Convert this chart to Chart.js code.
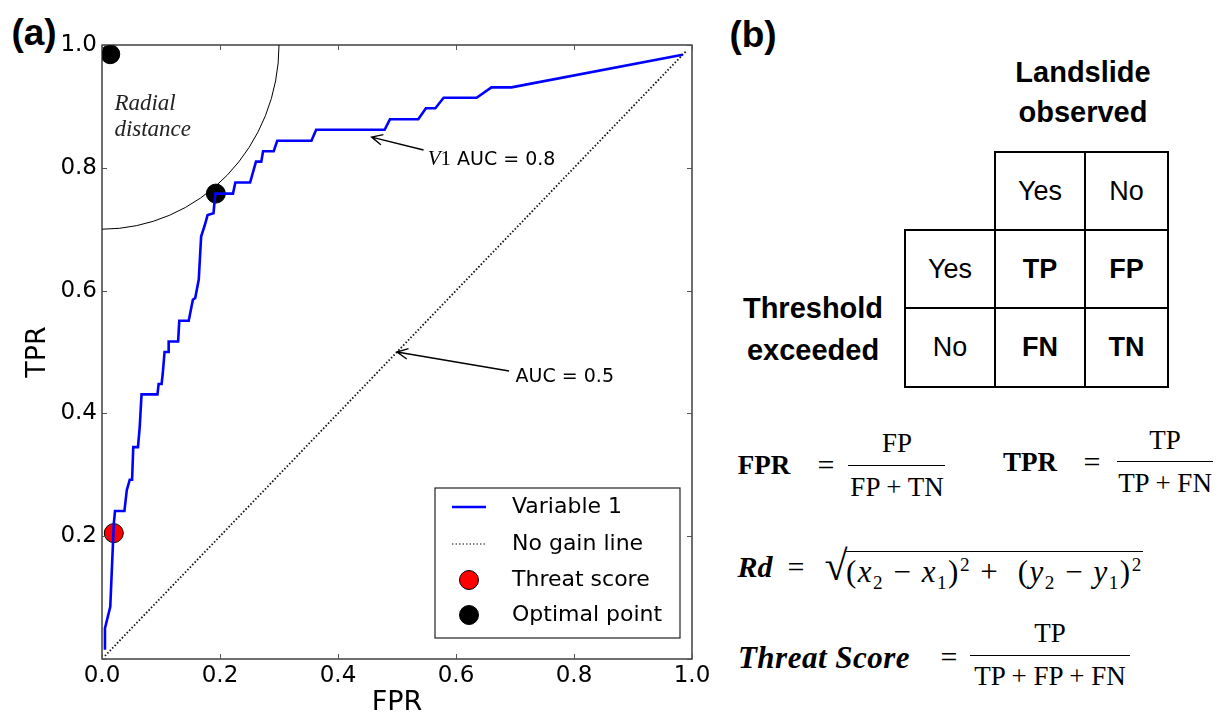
<!DOCTYPE html>
<html>
<head>
<meta charset="utf-8">
<script src="https://cdn.jsdelivr.net/npm/chart.js@4.4.0/dist/chart.umd.min.js"></script>
<style>
  html, body { margin: 0; padding: 0; background: #fff; }
  body { width: 1223px; height: 720px; position: relative; overflow: hidden; font-family: "Liberation Sans", Arial, sans-serif; color: #000; }
  #wrap { position: absolute; left: 0; top: 0; width: 720px; height: 720px; }
  .c { position: absolute; transform: translate(-50%, -50%); white-space: nowrap; line-height: 1; }
  .l { position: absolute; transform: translate(0, -50%); white-space: nowrap; line-height: 1; }
  .panel { font-weight: bold; font-size: 37px; }
  .head { font-weight: bold; font-size: 29px; }
  .cell { position: absolute; box-sizing: border-box; border: 2px solid #000; display: flex; align-items: center; justify-content: center; font-size: 27px; }
  .cell b { font-weight: bold; }
  .m { font-family: "Liberation Serif", "DejaVu Serif", serif; font-size: 27px; }
  .bar { position: absolute; height: 0; border-top: 1.6px solid #000; }
  sub, sup { font-size: 0.62em; line-height: 0; }
</style>
</head>
<body>
<div class="c panel" style="left:34px;top:32px">(a)</div>
<div id="wrap"><canvas id="roc" width="720" height="720"></canvas></div>

<!-- panel (b): contingency table and formulas -->
<div class="c panel" style="left:753px;top:34px">(b)</div>
<div class="c head" style="left:1083px;top:72px">Landslide</div>
<div class="c head" style="left:1083px;top:112px">observed</div>
<div class="c head" style="left:813px;top:308px">Threshold</div>
<div class="c head" style="left:813px;top:350px">exceeded</div>

<div class="cell" style="left:994px;top:151px;width:92px;height:80px">Yes</div>
<div class="cell" style="left:1084px;top:151px;width:85px;height:80px">No</div>
<div class="cell" style="left:904px;top:229px;width:92px;height:80px">Yes</div>
<div class="cell" style="left:994px;top:229px;width:92px;height:80px"><b>TP</b></div>
<div class="cell" style="left:1084px;top:229px;width:85px;height:80px"><b>FP</b></div>
<div class="cell" style="left:904px;top:307px;width:92px;height:81px">No</div>
<div class="cell" style="left:994px;top:307px;width:92px;height:81px"><b>FN</b></div>
<div class="cell" style="left:1084px;top:307px;width:85px;height:81px"><b>TN</b></div>

<div class="c m" style="left:764px;top:465px;font-weight:bold">FPR</div>
<div class="c m" style="left:826px;top:465px;font-size:30px">=</div>
<div class="c m" style="left:897px;top:443px">FP</div>
<div class="bar" style="left:848px;top:465px;width:97px"></div>
<div class="c m" style="left:897px;top:487px">FP + TN</div>

<div class="c m" style="left:1030px;top:462px;font-weight:bold">TPR</div>
<div class="c m" style="left:1092px;top:462px;font-size:30px">=</div>
<div class="c m" style="left:1165px;top:440px">TP</div>
<div class="bar" style="left:1117px;top:461px;width:96px"></div>
<div class="c m" style="left:1165px;top:483px">TP + FN</div>

<div class="c m" style="left:755px;top:567px;font-weight:bold;font-style:italic;font-size:30px">Rd</div>
<div class="c m" style="left:796px;top:567px;font-size:30px">=</div>
<div class="c m" style="left:836px;top:566px;font-size:42px">√</div>
<div class="l m" style="left:846px;top:569px;font-size:31px;letter-spacing:1.5px;border-top:1.6px solid #000;padding-top:4px">(<i>x</i><sub>2</sub> − <i>x</i><sub>1</sub>)<sup>2</sup> + &nbsp;(<i>y</i><sub>2</sub> − <i>y</i><sub>1</sub>)<sup>2</sup></div>

<div class="c m" style="left:824px;top:657px;font-weight:bold;font-style:italic;font-size:31px;letter-spacing:0.5px">Threat Score</div>
<div class="c m" style="left:949px;top:657px;font-size:30px">=</div>
<div class="c m" style="left:1050px;top:633px">TP</div>
<div class="bar" style="left:970px;top:655px;width:160px"></div>
<div class="c m" style="left:1050px;top:676px">TP + FP + FN</div>

<script>
// ROC curve of Variable 1
const fpr = [0.005, 0.005, 0.014, 0.020, 0.022, 0.038, 0.042, 0.047, 0.051, 0.053, 0.061, 0.064, 0.067,
  0.094, 0.096, 0.101, 0.103, 0.106, 0.112, 0.113, 0.129, 0.131, 0.147, 0.154, 0.158, 0.164, 0.168,
  0.174, 0.179, 0.189, 0.192, 0.222, 0.226, 0.251, 0.261, 0.270, 0.273, 0.291, 0.297, 0.355, 0.363,
  0.479, 0.488, 0.536, 0.549, 0.565, 0.579, 0.635, 0.660, 0.694, 0.984];
const tpr = [0.015, 0.050, 0.085, 0.220, 0.241, 0.241, 0.275, 0.292, 0.292, 0.345, 0.345, 0.379, 0.431,
  0.431, 0.448, 0.448, 0.465, 0.500, 0.500, 0.517, 0.517, 0.551, 0.551, 0.585, 0.588, 0.618, 0.688,
  0.706, 0.723, 0.726, 0.758, 0.758, 0.776, 0.776, 0.810, 0.810, 0.827, 0.827, 0.844, 0.844, 0.862,
  0.862, 0.879, 0.879, 0.897, 0.897, 0.914, 0.914, 0.931, 0.931, 0.984];

const noGainX = [0.005, 0.99];
const noGainY = [0.005, 0.99];
const threatX = [0.02];
const threatY = [0.205];
const optimalX = [0.014, 0.193];
const optimalY = [0.985, 0.758];

const xTickLabels = ['0.0', '0.2', '0.4', '0.6', '0.8', '1.0'];
const yTickLabels = ['', '0.2', '0.4', '0.6', '0.8', '1.0'];

// radial distance arc around the perfect classifier (0, 1)
const radialCenter = [0, 1];
const radialRadius = 0.3;
const radialText = ['Radial', 'distance'];
const radialTextAt = [[0.021, 0.904], [0.021, 0.862]];

const arrowNotes = [
  { italic: 'V', plain: '1', text: ' AUC = 0.8', tip: [0.457, 0.850], tail: [0.545, 0.829], at: [0.552, 0.813] },
  { italic: '', plain: '', text: 'AUC = 0.5', tip: [0.5, 0.5], tail: [0.690, 0.469], at: [0.701, 0.459] }
];

const pts = (xs, ys) => xs.map((x, i) => ({ x: x, y: ys[i] }));
const SANS = '"DejaVu Sans", sans-serif';
const SERIF = '"Liberation Serif", serif';

const arcPlugin = {
  id: 'radialArc',
  beforeDatasetsDraw(chart) {
    const { ctx, scales: { x, y } } = chart;
    const cx = x.getPixelForValue(radialCenter[0]);
    const cy = y.getPixelForValue(radialCenter[1]);
    const rx = x.getPixelForValue(radialCenter[0] + radialRadius) - cx;
    const ry = y.getPixelForValue(radialCenter[1] - radialRadius) - cy;
    ctx.save();
    ctx.strokeStyle = '#000';
    ctx.lineWidth = 1;
    ctx.beginPath();
    ctx.ellipse(cx, cy, rx, ry, 0, 0, Math.PI / 2);
    ctx.stroke();
    ctx.font = 'italic 23px ' + SERIF;
    ctx.fillStyle = '#222';
    ctx.textBaseline = 'middle';
    radialText.forEach((t, i) => {
      ctx.fillText(t, x.getPixelForValue(radialTextAt[i][0]), y.getPixelForValue(radialTextAt[i][1]));
    });
    ctx.restore();
  }
};

const framePlugin = {
  id: 'frameTicks',
  afterDraw(chart) {
    const { ctx, chartArea: a, scales: { x, y } } = chart;
    ctx.save();
    // annotations with arrows
    ctx.strokeStyle = '#000';
    ctx.fillStyle = '#000';
    ctx.lineWidth = 1.4;
    arrowNotes.forEach(n => {
      const tx = x.getPixelForValue(n.tip[0]), ty = y.getPixelForValue(n.tip[1]);
      const sx = x.getPixelForValue(n.tail[0]), sy = y.getPixelForValue(n.tail[1]);
      const ang = Math.atan2(ty - sy, tx - sx);
      ctx.beginPath();
      ctx.moveTo(sx, sy);
      ctx.lineTo(tx, ty);
      ctx.moveTo(tx - 12 * Math.cos(ang - 0.45), ty - 12 * Math.sin(ang - 0.45));
      ctx.lineTo(tx, ty);
      ctx.lineTo(tx - 12 * Math.cos(ang + 0.45), ty - 12 * Math.sin(ang + 0.45));
      ctx.stroke();
      let px = x.getPixelForValue(n.at[0]);
      const py = y.getPixelForValue(n.at[1]);
      ctx.textBaseline = 'middle';
      if (n.italic) {
        ctx.font = 'italic 21px ' + SERIF;
        ctx.fillText(n.italic, px, py);
        px += ctx.measureText(n.italic).width;
        ctx.font = '21px ' + SERIF;
        ctx.fillText(n.plain, px, py);
        px += ctx.measureText(n.plain).width;
      }
      ctx.font = '19px ' + SANS;
      ctx.fillText(n.text, px, py);
    });

    // frame
    ctx.strokeStyle = '#222';
    ctx.lineWidth = 1.3;
    ctx.strokeRect(a.left, a.top, a.right - a.left, a.bottom - a.top);
    // inward ticks on all four sides
    ctx.strokeStyle = '#555';
    ctx.lineWidth = 1;
    ctx.beginPath();
    x.ticks.forEach(t => {
      const px = Math.round(x.getPixelForValue(t.value)) + 0.5;
      ctx.moveTo(px, a.bottom); ctx.lineTo(px, a.bottom - 5);
      ctx.moveTo(px, a.top); ctx.lineTo(px, a.top + 5);
    });
    y.ticks.forEach(t => {
      const py = Math.round(y.getPixelForValue(t.value)) + 0.5;
      ctx.moveTo(a.left, py); ctx.lineTo(a.left + 5, py);
      ctx.moveTo(a.right, py); ctx.lineTo(a.right - 5, py);
    });
    ctx.stroke();

    // legend box, lower right
    const bw = 245, bh = 150;
    const bx = a.right - 12 - bw, by = a.bottom - 21 - bh;
    ctx.fillStyle = '#fff';
    ctx.fillRect(bx, by, bw, bh);
    ctx.strokeStyle = '#222';
    ctx.lineWidth = 1.2;
    ctx.strokeRect(bx, by, bw, bh);
    ctx.font = '22px ' + SANS;
    ctx.textBaseline = 'middle';
    const rowY = [19, 56, 92, 127];
    chart.data.datasets.forEach((ds, i) => {
      const cy = by + rowY[i];
      const cx = bx + 34;
      if (ds.showLine) {
        ctx.save();
        ctx.strokeStyle = ds.borderColor;
        ctx.lineWidth = ds.borderDash ? 1.2 : ds.borderWidth;
        ctx.setLineDash(ds.borderDash || []);
        ctx.beginPath();
        ctx.moveTo(cx - 17, cy); ctx.lineTo(cx + 17, cy);
        ctx.stroke();
        ctx.restore();
      } else {
        ctx.beginPath();
        ctx.arc(cx, cy, ds.pointRadius, 0, Math.PI * 2);
        ctx.fillStyle = ds.pointBackgroundColor;
        ctx.fill();
        ctx.lineWidth = 1;
        ctx.strokeStyle = '#000';
        ctx.stroke();
      }
      ctx.fillStyle = '#000';
      ctx.fillText(ds.label, bx + 77, cy);
    });
    ctx.restore();
  }
};

new Chart(document.getElementById('roc'), {
  type: 'scatter',
  data: {
    datasets: [
      { label: 'Variable 1', data: pts(fpr, tpr), showLine: true, borderColor: '#0000ff', borderWidth: 2.6,
        pointRadius: 0, fill: false },
      { label: 'No gain line', data: pts(noGainX, noGainY), showLine: true, borderColor: '#111',
        borderWidth: 1.8, borderDash: [1.5, 2], pointRadius: 0, fill: false },
      { label: 'Threat score', data: pts(threatX, threatY), showLine: false, pointRadius: 9.5,
        pointBackgroundColor: '#ff0000', pointBorderColor: '#000', pointBorderWidth: 1 },
      { label: 'Optimal point', data: pts(optimalX, optimalY), showLine: false, pointRadius: 9.5,
        pointBackgroundColor: '#000', pointBorderColor: '#000', pointBorderWidth: 1 }
    ]
  },
  options: {
    responsive: false,
    animation: false,
    devicePixelRatio: 1,
    layout: { padding: { top: 45, right: 28, left: 0, bottom: 0 } },
    plugins: { legend: { display: false }, tooltip: { enabled: false } },
    scales: {
      x: {
        type: 'linear', min: 0, max: 1,
        afterFit: s => { s.height = 61; },
        grid: { display: false, drawTicks: false },
        border: { display: false },
        ticks: { stepSize: 0.2, padding: 3, maxRotation: 0, color: '#000',
          font: { family: SANS, size: 23 }, callback: (v, i) => xTickLabels[i] },
        title: { display: true, text: 'FPR', color: '#000', font: { family: SANS, size: 27 },
          padding: { top: 0, bottom: 1 } }
      },
      y: {
        type: 'linear', min: 0, max: 1,
        afterFit: s => { s.width = 102; },
        grid: { display: false, drawTicks: false },
        border: { display: false },
        ticks: { stepSize: 0.2, padding: 5, color: '#000',
          font: { family: SANS, size: 23 }, callback: (v, i) => yTickLabels[i] },
        title: { display: true, text: 'TPR', color: '#000', font: { family: SANS, size: 27 },
          padding: { top: 22, bottom: 0 } }
      }
    }
  },
  plugins: [arcPlugin, framePlugin]
});
</script>
</body>
</html>
